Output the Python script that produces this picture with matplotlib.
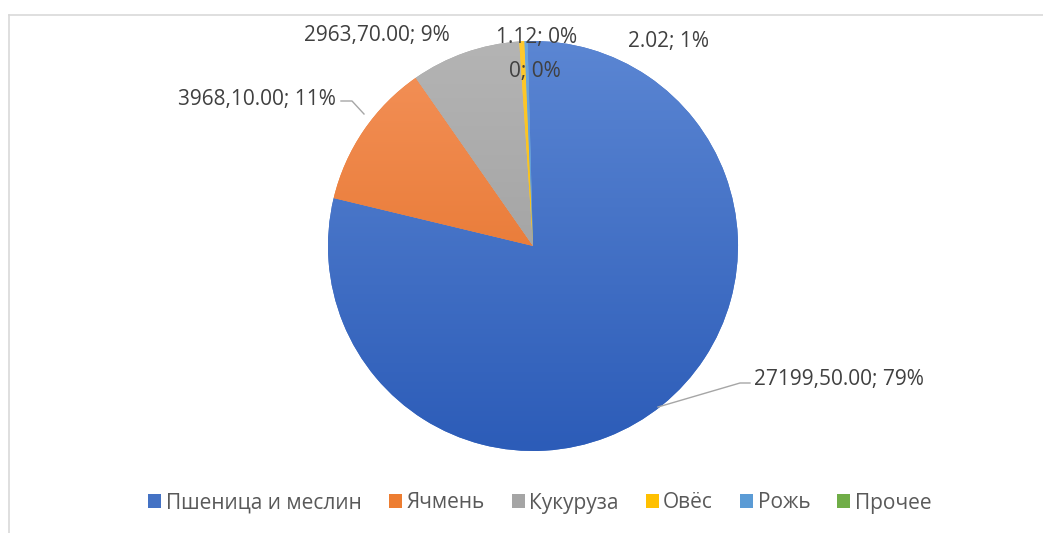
import matplotlib
matplotlib.use("Agg")
import matplotlib.pyplot as plt
import numpy as np
from matplotlib.colors import to_rgb
from matplotlib.lines import Line2D
from matplotlib.patches import Patch

categories = ["Пшеница и меслин", "Ячмень", "Кукуруза", "Овёс", "Рожь", "Прочее"]
# slice sizes (small slices estimated from their angle)
values = [27199.5, 3968.1, 2963.7, 140.0, 85.0, 0.0]
label_texts = ["27199,50.00; 79%", "3968,10.00; 11%", "2963,70.00; 9%",
               "1.12; 0%", "2.02; 1%", "0; 0%"]
colors = ["#4472C4", "#ED7D31", "#A5A5A5", "#FFC000", "#5B9BD5", "#70AD47"]
# shading: lighter at the top, darker at the bottom
tops = ["#5b86d3", "#f4925a", "#b4b4b4", "#ffca2e", "#6ea8dd", "#80b95a"]
bottoms = ["#2c5cb8", "#e0691c", "#979797", "#f0b400", "#4a8ccb", "#5f9c3a"]

plt.rcParams["font.family"] = ["Open Sans", "DejaVu Sans"]

W, H = 1043, 533
CX, CY, R = 533, 246, 205
fig = plt.figure(figsize=(W / 100, H / 100), dpi=100)
ax = fig.add_axes([(CX - R) / W, (H - CY - R) / H, 2 * R / W, 2 * R / H])

wedges, _ = ax.pie(values, colors=colors, startangle=91.5, counterclock=False,
                   radius=1, wedgeprops=dict(linewidth=0))
ax.set_aspect("auto")
ax.axis("off")

for w, c1, c2 in zip(wedges, tops, bottoms):
    top = np.array(to_rgb(c1))
    bot = np.array(to_rgb(c2))
    t = np.linspace(0, 1, 256)[:, None]
    grad = top[None, :] * (1 - t) + bot[None, :] * t
    img = ax.imshow(grad[:, None, :], extent=(-1, 1, -1, 1), origin="upper",
                    aspect="auto", zorder=w.get_zorder() + 0.1)
    img.set_clip_path(w)
ax.set_xlim(-1, 1)
ax.set_ylim(-1, 1)


def px(x, y):
    return (x - CX) / R, (CY - y) / R


txt_kw = dict(fontsize=15, color="#404040", clip_on=False)

# labels
ax.text(*px(377, 35), label_texts[2], ha="center", va="center", **txt_kw)
ax.text(*px(336, 100), label_texts[1], ha="right", va="center", **txt_kw)
ax.text(*px(537, 38), label_texts[3], ha="center", va="center", **txt_kw)
ax.text(*px(535, 72), label_texts[5], ha="center", va="center", **txt_kw)
ax.text(*px(669, 42), label_texts[4], ha="center", va="center", **txt_kw)
ax.text(*px(754, 380), label_texts[0], ha="left", va="center", **txt_kw)

# leader lines
for pts in ([(341, 101), (352, 101), (364, 114)],
            [(750, 383), (740, 383), (658, 407)]):
    xs, ys = zip(*[px(*p) for p in pts])
    ax.plot(xs, ys, color="#a6a6a6", lw=1, clip_on=False)

handles = [Patch(facecolor=c, edgecolor="none") for c in colors]
fig.legend(handles, categories, loc="center", ncol=6,
           bbox_to_anchor=(540 / W, 1 - 503 / H), frameon=False,
           fontsize=15, labelcolor="#595959", handlelength=0.62,
           handleheight=0.62, handletextpad=0.22, columnspacing=1.3)

# chart area border
fig.add_artist(Line2D([8.5 / W, 1], [1 - 14.5 / H] * 2, color="#d9d9d9", lw=1.2))
fig.add_artist(Line2D([8.5 / W] * 2, [0, 1 - 14.5 / H], color="#d9d9d9", lw=1.2))

fig.savefig("out.png", dpi=100)
